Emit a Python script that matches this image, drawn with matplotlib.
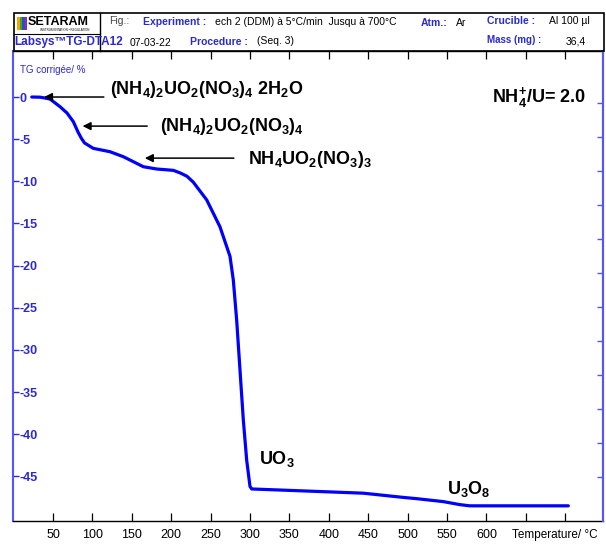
import matplotlib
matplotlib.use("Agg")
import matplotlib.pyplot as plt
from matplotlib.patches import Rectangle
from matplotlib.lines import Line2D

plt.rcParams['font.family'] = ['Liberation Sans', 'DejaVu Sans']
plt.rcParams['axes.unicode_minus'] = False

# TG curve (temperature in degC, mass change in %)
temperature = [23, 33.5, 39.8, 46.2, 58.9, 67.8, 75.8, 81.7, 86, 90, 101.1, 122.3, 139.2,
               151.9, 164.6, 181.6, 202.7, 211.2, 220, 228, 245, 261.9, 274.6, 278.8,
               283.1, 287.3, 291.5, 295.8, 300, 302.2, 359.3, 443.8, 494.5, 511.5,
               545.3, 566.5, 579, 613, 704]
tg = [0.0, -0.02, -0.12, -0.24, -1.15, -1.9, -2.93, -4.15, -4.9, -5.45, -6.09, -6.49, -7.08,
      -7.67, -8.27, -8.54, -8.7, -9.0, -9.4, -10.1, -12.2, -15.4, -18.9, -21.7,
      -26.5, -32.4, -38.3, -43.1, -46.2, -46.5, -46.7, -47.0, -47.5, -47.65,
      -48.0, -48.36, -48.5, -48.5, -48.5]

x_ticks = [50, 100, 150, 200, 250, 300, 350, 400, 450, 500, 550, 600, 650, 700]
x_labels = ['50', '100', '150', '200', '250', '300', '350', '400', '450', '500',
            '550', '600', '', '']
y_ticks = [0, -5, -10, -15, -20, -25, -30, -35, -40, -45]
y_labels = ['0', '-5', '-10', '-15', '-20', '-25', '-30', '-35', '-40', '-45']

W, H = 606, 545
BLUE = '#0000ff'
AXBLUE = '#5555ff'
LBLUE = '#2a2ad0'


def fx(x):
    return x / W


def fy(y):
    return 1 - y / H


def sub(s):
    return r'$_\mathregular{' + s + '}$'


fig = plt.figure(figsize=(W / 100, H / 100), dpi=100)

# ---- header box ----
fig.add_artist(Rectangle((fx(14), fy(51)), fx(604) - fx(14), fy(13) - fy(51),
                         transform=fig.transFigure, fill=False, lw=1.2, ec='black'))
fig.add_artist(Line2D([fx(100), fx(100)], [fy(13), fy(51)], transform=fig.transFigure,
                      lw=1.0, color='black'))
fig.add_artist(Line2D([fx(14), fx(100)], [fy(34), fy(34)], transform=fig.transFigure,
                      lw=0.8, color='black'))
# logo
for i, c in enumerate(['#f2a600', '#3aa63a', '#2850c8', '#a02890']):
    fig.add_artist(Rectangle((fx(17 + i * 2.6), fy(30)), 2.6 / W, 13 / H,
                             transform=fig.transFigure, color=c, lw=0))
fig.text(fx(28), fy(22), 'SETARAM', fontsize=9, weight='bold', va='center', ha='left')
fig.text(fx(40), fy(30), 'INSTRUMENTATION \u2022 REGULATION', fontsize=2.2, va='center',
         ha='left')
fig.text(fx(14), fy(42), 'Labsys\u2122TG-DTA12', fontsize=8.5, weight='bold', color=LBLUE,
         va='center', ha='left')

hdr = dict(fontsize=7.5, va='center', ha='left')
fig.text(fx(109), fy(21), 'Fig.:', color='#444444', **hdr)
fig.text(fx(143), fy(22), 'Experiment :', color=LBLUE, weight='bold', **hdr)
fig.text(fx(215), fy(22), 'ech 2 (DDM) \u00e0 5\u00b0C/min  Jusqu \u00e0 700\u00b0C', color='black', **hdr)
fig.text(fx(421), fy(23), 'Atm.:', color=LBLUE, weight='bold', **hdr)
fig.text(fx(456), fy(23), 'Ar', color='black', **hdr)
fig.text(fx(487), fy(21), 'Crucible :', color=LBLUE, weight='bold', **hdr)
fig.text(fx(549), fy(21), 'Al 100 \u00b5l', color='black', **hdr)
fig.text(fx(130), fy(43), '07-03-22', color='black', **hdr)
fig.text(fx(190), fy(42), 'Procedure :', color=LBLUE, weight='bold', **hdr)
fig.text(fx(257), fy(41), '(Seq. 3)', color='black', **hdr)
fig.text(fx(487), fy(40), 'Mass (mg) :', color=LBLUE, weight='bold', fontsize=7, va='center', ha='left')
fig.text(fx(566), fy(41), '36,4', color='black', **hdr)

# ---- plot area ----
ax = fig.add_axes([fx(13), fy(521), fx(603) - fx(13), fy(51) - fy(521)])
ax.plot(temperature, tg, color=BLUE, lw=2.3, solid_capstyle='round', solid_joinstyle='round')
ax.set_xlim(-0.8, 748)
ax.set_ylim(-50.3, 5.46)

ax.set_xticks(x_ticks)
ax.set_xticklabels(x_labels)
ax.tick_params(axis='x', direction='in', length=6, width=0.9, top=True, bottom=True,
               labelsize=9, pad=6, color='black')
ax.set_yticks(y_ticks)
ax.set_yticklabels(y_labels)
ax.tick_params(axis='y', direction='in', length=4.5, width=1.0, left=True, right=False,
               labelsize=9, pad=-5, colors=LBLUE)
for lab in ax.get_yticklabels():
    lab.set_horizontalalignment('left')
    lab.set_fontweight('bold')

for s in ['left', 'right']:
    ax.spines[s].set_color(AXBLUE)
    ax.spines[s].set_linewidth(1.5)
for s in ['top', 'bottom']:
    ax.spines[s].set_color('black')
    ax.spines[s].set_linewidth(1.0)

# secondary (unlabelled) ticks on the right spine
ax2 = ax.twinx()
ax2.set_ylim(-1.29, 12.53)
ax2.set_yticks(range(12))
ax2.tick_params(axis='y', direction='in', length=4.5, width=1.0, labelright=False,
                color=AXBLUE)
for s in ['left', 'top', 'bottom']:
    ax2.spines[s].set_visible(False)
ax2.spines['right'].set_color(AXBLUE)
ax2.spines['right'].set_linewidth(1.5)

ax.text(8, 3.2, 'TG corrig\u00e9e/ %', color=LBLUE, fontsize=7, va='center', ha='left')
ax.text(633, -52.0, 'Temperature/ \u00b0C', fontsize=8.5, va='center', ha='left', clip_on=False)

# ---- annotations ----
ann = dict(fontsize=13, weight='bold', va='center', ha='left', color='black')
ax.text(122, 0.9, '(NH' + sub('4') + ')' + sub('2') + 'UO' + sub('2') + '(NO' + sub('3') + ')'
        + sub('4') + ' 2H' + sub('2') + 'O', **ann)
ax.text(186, -3.5, '(NH' + sub('4') + ')' + sub('2') + 'UO' + sub('2') + '(NO' + sub('3') + ')'
        + sub('4'), **ann)
ax.text(297, -7.4, 'NH' + sub('4') + 'UO' + sub('2') + '(NO' + sub('3') + ')' + sub('3'), **ann)
ax.text(607, -0.1, r'NH$_\mathregular{4}^\mathregular{+}$/U= 2.0', **ann)
ax.text(312, -42.9, 'UO' + sub('3'), **ann)
ax.text(550, -46.5, 'U' + sub('3') + 'O' + sub('8'), **ann)

arrow = dict(arrowstyle='-|>', color='black', lw=1.1, mutation_scale=12)
ax.annotate('', xy=(35, 0.0), xytext=(118, 0.0), arrowprops=arrow)
ax.annotate('', xy=(84, -3.45), xytext=(173, -3.45), arrowprops=arrow)
ax.annotate('', xy=(163, -7.25), xytext=(283, -7.25), arrowprops=arrow)

fig.savefig('out.png', dpi=100)
